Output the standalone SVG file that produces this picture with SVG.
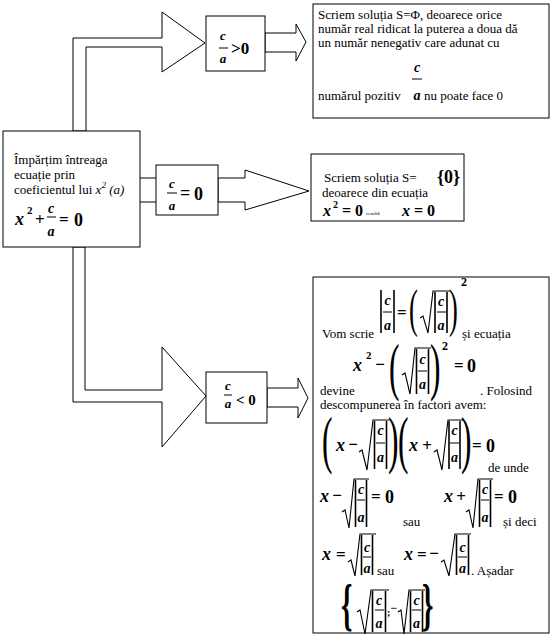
<svg xmlns="http://www.w3.org/2000/svg" width="555" height="637" viewBox="0 0 555 637" font-family="'Liberation Serif', 'DejaVu Serif', serif">
<style>
.bx{fill:#fff;stroke:#000;stroke-width:1}
.ar{fill:#fff;stroke:#000;stroke-width:1}
.ln{stroke:#000;stroke-width:1;fill:none}
.ab{stroke:#000;stroke-width:1.6;fill:none}
.rd{stroke:#000;stroke-width:1.1;fill:none}
text{font-family:'Liberation Serif','DejaVu Serif',serif;fill:#000}
.t{font-size:13px}
.v{font-weight:bold;font-style:italic}
.o{font-weight:bold}
.m{text-anchor:middle}
</style>
<rect width="555" height="637" fill="#fff"/>

<g id="connectors">
<polygon class="ar" points="73,131 73,38 162,38 162,12 205,43 162,72 162,47 86,47 86,131"/>
<polygon class="ar" points="73,247 73,402 162,402 162,447 206,396 162,347 162,390 85,390 85,247"/>
<line class="ln" x1="140" y1="178" x2="156" y2="178"/>
<line class="ln" x1="140" y1="202" x2="156" y2="202"/>
<polygon class="ar" points="218,178 245,178 245,170 309,191 245,210 245,202 218,202"/>
<polygon class="ar" points="265,33 296,33 296,24 306,42 296,61 296,52 265,52"/>
<polygon class="ar" points="267,388 298,388 298,378 308,398 298,418 298,407 267,407"/>
</g>

<g id="main">
<rect class="bx" x="3" y="131" width="137" height="116"/>
<text class="t" x="14" y="164">Împărțim întreaga</text>
<text class="t" x="14" y="179">ecuație prin</text>
<text class="t" x="14" y="194">coeficientul lui <tspan font-style="italic">x</tspan><tspan font-style="italic" font-size="9" dy="-6">2</tspan><tspan font-style="italic" dy="6">  (a)</tspan></text>
<text class="v" x="15" y="225" font-size="18">x</text>
<text class="o" x="27" y="214" font-size="11">2</text>
<text class="o" x="35" y="225" font-size="17">+</text>
<text class="v m" x="51" y="213" font-size="14">c</text>
<line class="ln" x1="47" y1="217" x2="56" y2="217"/>
<text class="v m" x="51" y="236" font-size="14">a</text>
<text class="o" x="59" y="225" font-size="17">=</text>
<text class="o" x="74" y="226" font-size="18">0</text>
</g>

<g id="gt">
<rect class="bx" x="206" y="16" width="59" height="55"/>
<text class="v m" x="223" y="40" font-size="13">c</text>
<line class="ln" x1="219" y1="48" x2="228" y2="48"/>
<text class="v m" x="223" y="63" font-size="13">a</text>
<text class="o" x="231" y="54" font-size="17">&gt;0</text>
</g>

<g id="eq">
<rect class="bx" x="156" y="165" width="62" height="50"/>
<text class="v m" x="172" y="188" font-size="13">c</text>
<line class="ln" x1="167" y1="193" x2="177" y2="193"/>
<text class="v m" x="172" y="210" font-size="13">a</text>
<text class="o" x="180" y="199" font-size="18">=</text>
<text class="o" x="194" y="200" font-size="18">0</text>
</g>

<g id="lt">
<rect class="bx" x="206" y="372" width="61" height="51"/>
<text class="v m" x="228" y="390" font-size="13">c</text>
<line class="ln" x1="224" y1="395" x2="232" y2="395"/>
<text class="v m" x="228" y="408" font-size="13">a</text>
<text class="o" x="236" y="405" font-size="15">&lt; 0</text>
</g>

<g id="res1">
<rect class="bx" x="313" y="4" width="236" height="114"/>
<text class="t" x="318" y="19">Scriem soluția S=Φ, deoarece orice</text>
<text class="t" x="318" y="33">număr real ridicat la puterea a doua dă</text>
<text class="t" x="318" y="47">un număr nenegativ care adunat cu</text>
<text class="v m" x="417" y="72" font-size="14">c</text>
<line class="ln" x1="412" y1="79" x2="422" y2="79"/>
<text class="t" x="318" y="100">numărul pozitiv</text>
<text class="v m" x="417" y="100" font-size="14">a</text>
<text class="t" x="424" y="100">nu poate face 0</text>
</g>

<g id="res2">
<rect class="bx" x="311" y="154" width="153" height="67"/>
<text class="t" x="324" y="182">Scriem soluția S=</text>
<text class="o" x="437" y="183" font-size="18">{0}</text>
<text class="t" x="322" y="197">deoarece din ecuația</text>
<text class="v" x="323" y="216" font-size="16">x</text>
<text class="o" x="333" y="208" font-size="10">2</text>
<text class="o" x="342" y="216" font-size="16">=</text>
<text class="o" x="355" y="216" font-size="16">0</text>
<text x="366" y="215" font-size="5">rezultă</text>
<text class="v" x="402" y="216" font-size="16">x</text>
<text class="o" x="414" y="216" font-size="16">=</text>
<text class="o" x="427" y="216" font-size="16">0</text>
</g>

<g id="res3">
<rect class="bx" x="313" y="277" width="236" height="356"/>
<!-- line 1 -->
<text class="t" x="322" y="338">Vom scrie</text>
<line class="ab" x1="381" y1="290" x2="381" y2="333"/>
<text class="v m" x="387.5" y="305" font-size="14">c</text>
<line class="ln" x1="383" y1="312" x2="392" y2="312"/>
<text class="v m" x="387.5" y="330" font-size="14">a</text>
<line class="ab" x1="394" y1="290" x2="394" y2="333"/>
<text class="o" x="397" y="318" font-size="17">=</text>
<text transform="translate(409,325.7) scale(0.5,1)" font-size="52.8">(</text>
<polyline class="rd" points="420,318 423,316 428,333 433,291 450,291"/>
<line class="ab" x1="435" y1="292" x2="435" y2="333"/>
<text class="v m" x="441" y="306" font-size="14">c</text>
<line class="ln" x1="437" y1="312" x2="446" y2="312"/>
<text class="v m" x="441" y="330" font-size="14">a</text>
<line class="ab" x1="447" y1="292" x2="447" y2="333"/>
<text transform="translate(449,325.7) scale(0.5,1)" font-size="52.8">)</text>
<text class="o" x="461" y="286" font-size="12">2</text>
<text class="t" x="462" y="338">și ecuația</text>
<!-- line 2 -->
<text class="v" x="353" y="371" font-size="18">x</text>
<text class="o" x="366" y="359" font-size="11">2</text>
<text class="o m" x="380" y="370" font-size="17">−</text>
<text transform="translate(389,388) scale(0.5,1)" font-size="63">(</text>
<polyline class="rd" points="402,375 405,373 410,394 415,348 431,348"/>
<line class="ab" x1="416.5" y1="349" x2="416.5" y2="394"/>
<text class="v m" x="422.5" y="364" font-size="14">c</text>
<line class="ln" x1="418" y1="371" x2="427" y2="371"/>
<text class="v m" x="422.5" y="389" font-size="14">a</text>
<line class="ab" x1="428.5" y1="349" x2="428.5" y2="394"/>
<text transform="translate(430,388) scale(0.5,1)" font-size="63">)</text>
<text class="o" x="442" y="350" font-size="12">2</text>
<text class="o" x="454" y="371" font-size="17">=</text>
<text class="o" x="467" y="372" font-size="18">0</text>
<text class="t" x="320" y="395">devine</text>
<text class="t" x="480" y="395">. Folosind</text>
<text class="t" x="320" y="409">descompunerea în factori  avem:</text>
<!-- line 3 -->
<text transform="translate(322,461) scale(0.5,1)" font-size="63">(</text>
<text class="v" x="336" y="451" font-size="18">x</text>
<text class="o m" x="353" y="450" font-size="17">−</text>
<polyline class="rd" points="359,452 362,450 367,470 373,420 389,420"/>
<line class="ab" x1="374.5" y1="421" x2="374.5" y2="469"/>
<text class="v m" x="380.5" y="435" font-size="14">c</text>
<line class="ln" x1="376" y1="443" x2="385" y2="443"/>
<text class="v m" x="380.5" y="462" font-size="14">a</text>
<line class="ab" x1="386.5" y1="421" x2="386.5" y2="469"/>
<text transform="translate(388,461) scale(0.5,1)" font-size="63">)</text>
<text transform="translate(398,461) scale(0.5,1)" font-size="63">(</text>
<text class="v" x="409" y="451" font-size="18">x</text>
<text class="o m" x="427" y="451" font-size="17">+</text>
<polyline class="rd" points="434,452 437,450 442,470 448,420 463,420"/>
<line class="ab" x1="449" y1="421" x2="449" y2="469"/>
<text class="v m" x="454.5" y="435" font-size="14">c</text>
<line class="ln" x1="450" y1="443" x2="459" y2="443"/>
<text class="v m" x="454.5" y="462" font-size="14">a</text>
<line class="ab" x1="460" y1="421" x2="460" y2="469"/>
<text transform="translate(461,461) scale(0.5,1)" font-size="63">)</text>
<text class="o" x="472" y="451" font-size="17">=</text>
<text class="o" x="486" y="452" font-size="18">0</text>
<text class="t" x="488" y="472">de unde</text>
<!-- line 4 -->
<text class="v" x="320" y="502" font-size="18">x</text>
<text class="o m" x="337" y="501" font-size="17">−</text>
<polyline class="rd" points="342,512 345,510 349,528 354,479 369,479"/>
<line class="ab" x1="355.5" y1="480" x2="355.5" y2="527"/>
<text class="v m" x="361" y="494" font-size="14">c</text>
<line class="ln" x1="357" y1="500" x2="365" y2="500"/>
<text class="v m" x="361" y="522" font-size="14">a</text>
<line class="ab" x1="366.5" y1="480" x2="366.5" y2="527"/>
<text class="o" x="371" y="502" font-size="17">=</text>
<text class="o" x="385" y="503" font-size="18">0</text>
<text class="t" x="403" y="526">sau</text>
<text class="v" x="444" y="502" font-size="18">x</text>
<text class="o m" x="461" y="502" font-size="17">+</text>
<polyline class="rd" points="466,512 469,510 473,528 478,479 493,479"/>
<line class="ab" x1="479.5" y1="480" x2="479.5" y2="527"/>
<text class="v m" x="485" y="494" font-size="14">c</text>
<line class="ln" x1="481" y1="500" x2="489" y2="500"/>
<text class="v m" x="485" y="522" font-size="14">a</text>
<line class="ab" x1="490.5" y1="480" x2="490.5" y2="527"/>
<text class="o" x="494" y="502" font-size="17">=</text>
<text class="o" x="508" y="503" font-size="18">0</text>
<text class="t" x="503" y="526">și deci</text>
<!-- line 5 -->
<text class="v" x="322" y="560" font-size="18">x</text>
<text class="o" x="336" y="560" font-size="17">=</text>
<polyline class="rd" points="348,562 351,560 355,576 360,534 376,534"/>
<line class="ab" x1="361.5" y1="535" x2="361.5" y2="575"/>
<text class="v m" x="367" y="552" font-size="14">c</text>
<line class="ln" x1="363" y1="557" x2="371" y2="557"/>
<text class="v m" x="367" y="573" font-size="14">a</text>
<line class="ab" x1="372.5" y1="535" x2="372.5" y2="575"/>
<text class="t" x="377" y="575">sau</text>
<text class="v" x="404" y="560" font-size="18">x</text>
<text class="o" x="417" y="560" font-size="17">=</text>
<text class="o m" x="434" y="559" font-size="17">−</text>
<polyline class="rd" points="441,562 444,560 449,576 455,534 471,534"/>
<line class="ab" x1="456.5" y1="535" x2="456.5" y2="575"/>
<text class="v m" x="462.5" y="552" font-size="14">c</text>
<line class="ln" x1="458" y1="557" x2="467" y2="557"/>
<text class="v m" x="462.5" y="573" font-size="14">a</text>
<line class="ab" x1="468.5" y1="535" x2="468.5" y2="575"/>
<text class="t" x="471" y="575">. Așadar</text>
<!-- line 6 -->
<text class="o" transform="translate(341,624.4) scale(0.5,1)" font-size="58">{</text>
<polyline class="rd" points="357,612 360,610 365,634 371,590 389,590"/>
<line class="ab" x1="372.5" y1="591" x2="372.5" y2="632"/>
<text class="v m" x="379" y="605" font-size="14">c</text>
<line class="ln" x1="375" y1="610" x2="384" y2="610"/>
<text class="v m" x="379" y="628" font-size="14">a</text>
<line class="ab" x1="385.5" y1="591" x2="385.5" y2="632"/>
<text class="o" x="387" y="616" font-size="10">;</text>
<text class="o m" x="394" y="612" font-size="12">−</text>
<polyline class="rd" points="398,612 401,610 404,634 409,590 425,590"/>
<line class="ab" x1="410.5" y1="591" x2="410.5" y2="632"/>
<text class="v m" x="416.5" y="605" font-size="14">c</text>
<line class="ln" x1="412" y1="610" x2="421" y2="610"/>
<text class="v m" x="416.5" y="628" font-size="14">a</text>
<line class="ab" x1="422.5" y1="591" x2="422.5" y2="632"/>
<text class="o" transform="translate(422,624.4) scale(0.5,1)" font-size="58">}</text>
</g>
</svg>
